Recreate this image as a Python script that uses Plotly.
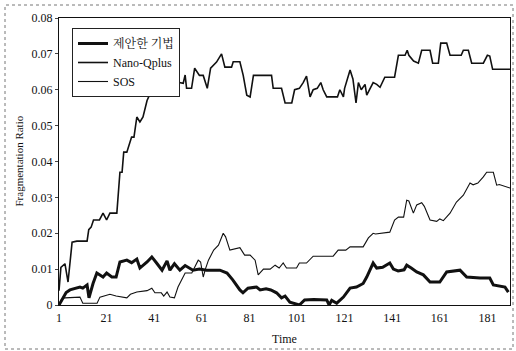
import plotly.graph_objects as go

# ---- data ----
nano_t = [1, 1.8, 3.5, 4.8, 6.5, 8.5, 12.8, 13.5, 14.5, 15.5, 18, 19.5, 21, 22.4, 25.3, 26.6, 27.5,
          28.2, 29.5, 31.5, 32.5, 33.7, 35, 36.3, 38, 39, 40.5, 42, 45, 48,
          49.7, 51, 53.2, 54, 54.6, 56.7, 58, 60, 61.6, 63.3, 64.7, 67.2, 69.3, 70.7, 73.5, 74.2,
          77, 78.4, 79.9, 81.3, 82.7, 90.3, 91, 94.5, 96, 98.8, 100, 102, 103.6, 105, 106.5,
          107.8, 109.5, 111, 112, 113.5, 118, 119, 120.5, 121, 123.3, 124.5, 125.8, 126.8, 128,
          129.6, 130.3, 133, 134.5, 135.9, 137.9, 142, 143.6, 146.4, 147.3, 148, 150, 152, 153.4,
          156.9, 158, 160.4, 161.4, 163.9, 165.3, 170, 170.9, 173, 174.4, 179.3, 181, 182, 183.2, 190.5]
nano_v = [0.004, 0.0105, 0.0115, 0.0064, 0.0175, 0.0178, 0.0178, 0.021, 0.0217, 0.0237, 0.0237, 0.0256,
          0.0237, 0.0256, 0.0256, 0.037, 0.037, 0.0426, 0.0426, 0.0468, 0.0468, 0.0524, 0.051, 0.0524,
          0.057, 0.0585, 0.060, 0.061, 0.062, 0.063,
          0.0641, 0.0621, 0.0618, 0.0641, 0.0604, 0.0604, 0.066, 0.064, 0.064, 0.0604, 0.066, 0.0677,
          0.070, 0.0663, 0.0663, 0.0678, 0.0678, 0.064, 0.0585, 0.058, 0.064, 0.064, 0.0604, 0.0604,
          0.0563, 0.0563, 0.060, 0.0604, 0.062, 0.0638, 0.058, 0.060, 0.0604, 0.062, 0.060, 0.058,
          0.058, 0.060, 0.058, 0.0604, 0.0655, 0.063, 0.0563, 0.062, 0.060, 0.0615, 0.0585, 0.062,
          0.0615, 0.0607, 0.0635, 0.0635, 0.0696, 0.0696, 0.071, 0.0696, 0.068, 0.0674, 0.071, 0.071,
          0.0674, 0.0674, 0.073, 0.073, 0.0696, 0.0696, 0.071, 0.071, 0.0674, 0.0674, 0.0696, 0.0694,
          0.0657, 0.0657]

sos_t = [1, 2, 3.5, 9.8, 11, 17, 18.2, 22.4, 25, 29.5, 31, 33.7, 38, 40, 41.3, 44, 45, 46.4, 47.6,
         49.5, 51, 54, 56.8, 59.5, 60.5, 61.6, 62.5, 63.8, 66, 68, 70, 71, 72.8, 77, 79, 81.3, 83.4,
         84.7, 86.9, 89.7, 91.8, 93.5, 95.2, 96.6, 100.8, 102, 105, 107.8, 116.2, 118.3, 121.5, 123.3,
         128.8, 131, 133, 134, 140, 142, 143.6, 145.8, 147.1, 148, 149.9, 151.3, 153.4, 154.5, 156.9,
         159.7, 161, 162.5, 165.3, 168, 170.9, 173.7, 175, 177, 179.3, 180.7, 183.5, 184.9, 186, 189, 190.5]
sos_v = [0, 0.0015, 0.002, 0.0022, 0.0005, 0.0005, 0.0022, 0.003, 0.0025, 0.002, 0.003, 0.0036, 0.004,
         0.0047, 0.0034, 0.0034, 0.0025, 0.0036, 0.0022, 0.002, 0.005, 0.0089, 0.0089, 0.0125, 0.012,
         0.0078, 0.010, 0.0125, 0.0153, 0.0167, 0.020, 0.019, 0.0153, 0.016, 0.0139, 0.0139, 0.0125,
         0.0084, 0.010, 0.010, 0.0111, 0.0103, 0.0117, 0.0103, 0.0103, 0.0117, 0.0117, 0.0136, 0.0136,
         0.0153, 0.0153, 0.0162, 0.0162, 0.0187, 0.020, 0.0198, 0.0203, 0.0237, 0.0245, 0.0245, 0.0292,
         0.029, 0.0256, 0.0279, 0.0285, 0.0275, 0.0237, 0.0233, 0.024, 0.0235, 0.0256, 0.0287, 0.0306,
         0.034, 0.0335, 0.034, 0.0357, 0.037, 0.037, 0.0334, 0.0336, 0.033, 0.0326]

prop_t = [1, 2.7, 4, 5.6, 9.8, 11, 12.8, 13.6, 15.3, 16.9, 19.5, 21, 23.2, 25, 26.6, 29.5, 31.5, 33.7,
          35, 38, 40, 42, 44.3, 46.4, 47.6, 49.5, 51.8, 54, 57.3, 60, 63, 68.6, 71.6, 74, 77, 78.3,
          80.4, 84, 85.5, 88, 90, 92.4, 94.5, 96, 98, 102, 104.2, 108, 113.5, 114.5, 115.6, 117.7,
          120.5, 123.3, 126, 128.8, 130.3, 133, 134.5, 137, 140, 141.5, 143.5, 146, 147.1, 149, 151.3,
          154.1, 156.9, 161, 162.5, 163.9, 169.5, 172.3, 177.9, 182, 183.5, 188.4, 189.8]
prop_v = [0, 0.0022, 0.0035, 0.0042, 0.005, 0.0047, 0.0056, 0.002, 0.006, 0.0089, 0.0078, 0.0089,
          0.0078, 0.0078, 0.012, 0.0125, 0.0118, 0.0128, 0.0103, 0.012, 0.0134, 0.0117, 0.0097, 0.0123,
          0.0097, 0.0115, 0.0097, 0.011, 0.0097, 0.010, 0.0097, 0.0097, 0.0089, 0.007, 0.0042, 0.0034,
          0.0047, 0.005, 0.0042, 0.0045, 0.0042, 0.0034, 0.002, 0.0025, 0.0008, 0.0, 0.0014, 0.0015,
          0.0014, 0.0, 0.0013, 0.0005, 0.0022, 0.0047, 0.005, 0.006, 0.0078, 0.0117, 0.0103, 0.0105,
          0.0117, 0.010, 0.0095, 0.0098, 0.0111, 0.0103, 0.0092, 0.0084, 0.0064, 0.0064, 0.008, 0.0092,
          0.0097, 0.0078, 0.0075, 0.0075, 0.0056, 0.005, 0.0036]

x_ticks = [1, 21, 41, 61, 81, 101, 121, 141, 161, 181]
y_ticks = [0, 0.01, 0.02, 0.03, 0.04, 0.05, 0.06, 0.07, 0.08]
y_tick_text = ["0", "0.01", "0.02", "0.03", "0.04", "0.05", "0.06", "0.07", "0.08"]

FONT = "'Liberation Serif', 'Times New Roman', 'Noto Serif CJK KR', 'Noto Sans CJK KR', serif"

fig = go.Figure()
fig.add_trace(go.Scatter(x=prop_t, y=prop_v, mode="lines", name="제안한 기법",
                         line=dict(color="#111111", width=3)))
fig.add_trace(go.Scatter(x=nano_t, y=nano_v, mode="lines", name="Nano-Qplus",
                         line=dict(color="#111111", width=1.6)))
fig.add_trace(go.Scatter(x=sos_t, y=sos_v, mode="lines", name="SOS",
                         line=dict(color="#111111", width=1.1)))

L, R, T, B = 59, 6, 18, 46
pw = 516 - L - R
ph = 351 - T - B

fig.update_layout(
    width=516, height=351,
    margin=dict(l=L, r=R, t=T, b=B),
    paper_bgcolor="white", plot_bgcolor="white",
    font=dict(family=FONT, size=12, color="#111111"),
    showlegend=True,
    legend=dict(x=(72 - L) / pw, y=(305 - 28) / ph, xanchor="left", yanchor="top",
                bgcolor="white", bordercolor="#222222", borderwidth=1,
                font=dict(family=FONT, size=12), tracegroupgap=2),
    xaxis=dict(range=[1, 190.5], tickmode="array", tickvals=x_ticks,
               showgrid=False, zeroline=False, showline=True, linecolor="#111111",
               linewidth=1, mirror=True, ticks="", tickfont=dict(family=FONT, size=12),
               ticklabelstandoff=2),
    yaxis=dict(range=[0, 0.08], tickmode="array", tickvals=y_ticks, ticktext=y_tick_text,
               showgrid=False, zeroline=False, showline=True, linecolor="#111111",
               linewidth=1, mirror=True, ticks="outside", ticklen=3, tickcolor="#444444",
               tickfont=dict(family=FONT, size=12)),
    annotations=[
        dict(text="Fragmentation Ratio", xref="paper", yref="paper",
             x=(18 - L) / pw, y=0.5, xanchor="center", yanchor="middle",
             textangle=-90, showarrow=False,
             font=dict(family=FONT, size=11)),
        dict(text="Time", xref="paper", yref="paper",
             x=0.5, y=(305 - 339) / ph, xanchor="center", yanchor="middle",
             showarrow=False, font=dict(family=FONT, size=12)),
    ],
    shapes=[
        dict(type="rect", xref="paper", yref="paper",
             x0=(5 - L) / pw, x1=(513 - L) / pw, y0=(305 - 349) / ph, y1=(305 - 5) / ph,
             line=dict(color="#777777", width=1, dash="dot"), layer="below"),
    ],
)

fig.write_html("out.html",
               config={"displayModeBar": False},
               post_script="document.body.style.margin='0';document.body.style.padding='0';"
                           "document.body.style.overflow='hidden';")
